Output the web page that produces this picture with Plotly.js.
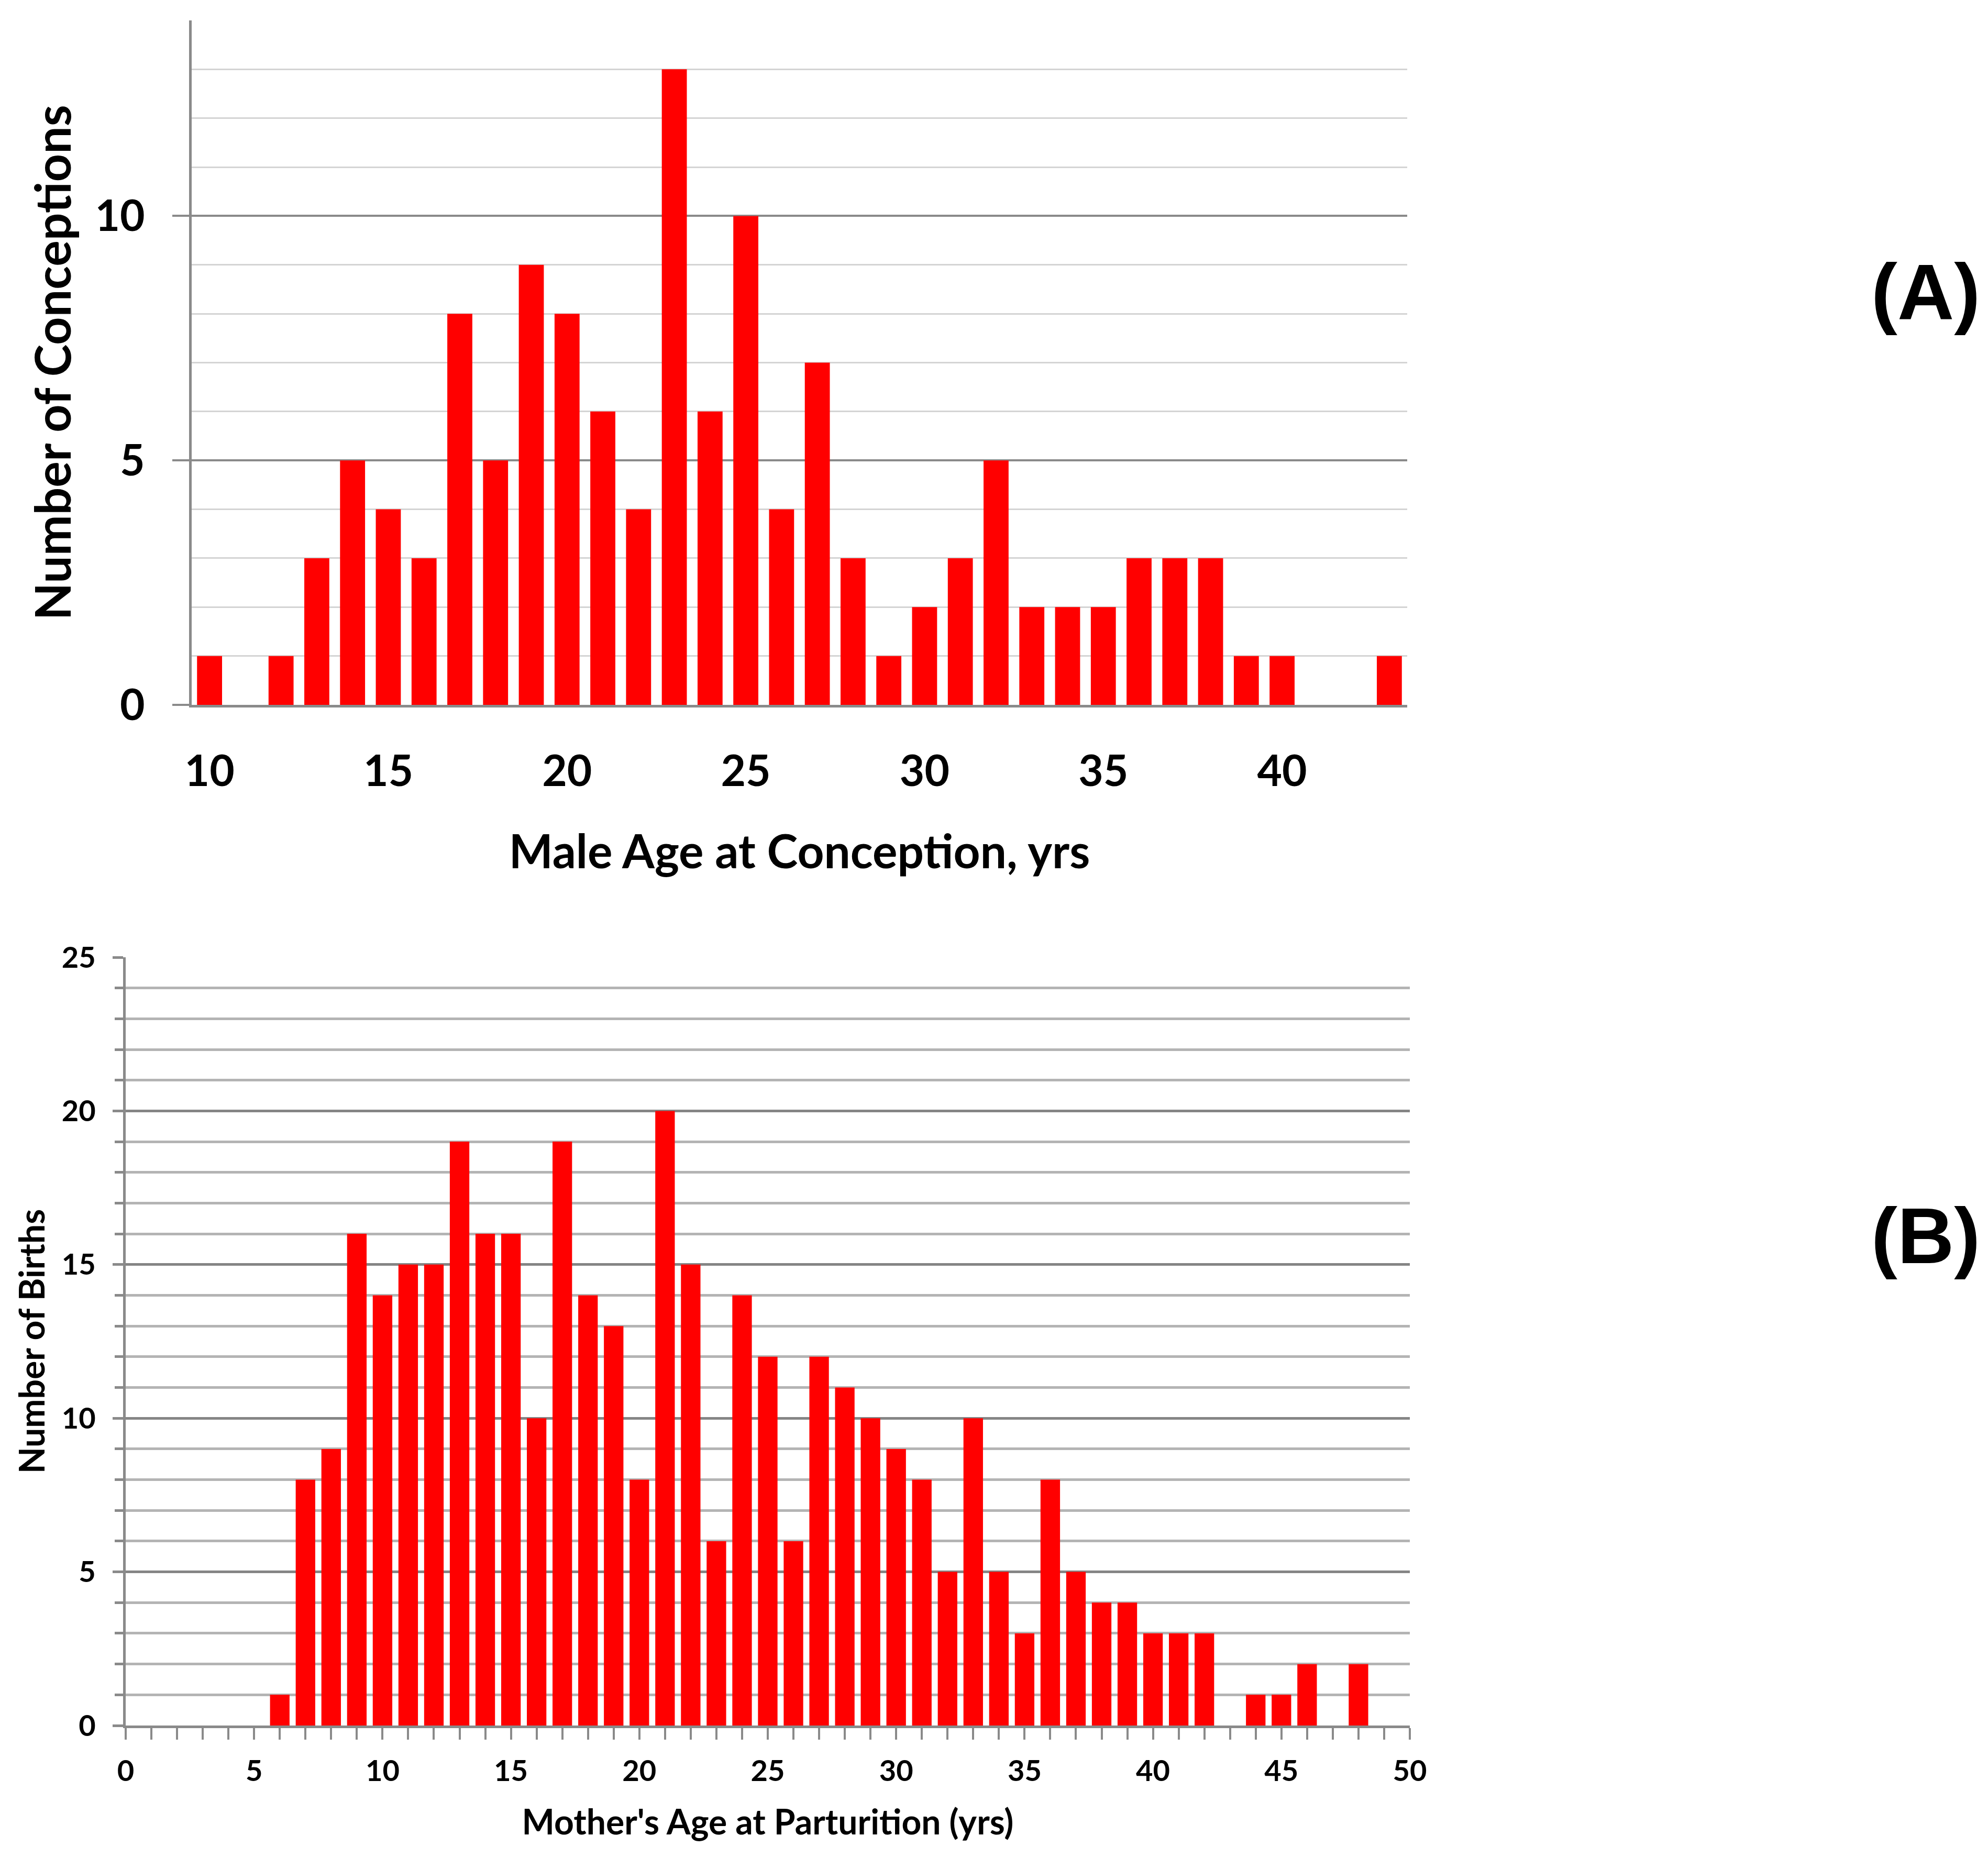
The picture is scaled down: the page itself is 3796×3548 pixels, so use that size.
<!DOCTYPE html>
<html>
<head>
<meta charset="utf-8">
<script src="https://cdn.plot.ly/plotly-3.0.1.min.js"></script>
<style>
  html, body { margin: 0; padding: 0; background: #fff; }
  #plotdiv { width: 3796px; height: 3548px; }
</style>
</head>
<body>
<div id="plotdiv"></div>
<script>
// (A) male age at conception
var maleAge = [10, 11, 12, 13, 14, 15, 16, 17, 18, 19, 20, 21, 22, 23, 24, 25, 26,
               27, 28, 29, 30, 31, 32, 33, 34, 35, 36, 37, 38, 39, 40, 41, 42, 43];
var conceptions = [1, 0, 1, 3, 5, 4, 3, 8, 5, 9, 8, 6, 4, 13, 6, 10, 4,
                   7, 3, 1, 2, 3, 5, 2, 2, 2, 3, 3, 3, 1, 1, 0, 0, 1];

// (B) mother's age at parturition
var motherAge = [6, 7, 8, 9, 10, 11, 12, 13, 14, 15, 16, 17, 18, 19, 20, 21, 22,
                 23, 24, 25, 26, 27, 28, 29, 30, 31, 32, 33, 34, 35, 36, 37, 38,
                 39, 40, 41, 42, 43, 44, 45, 46, 47, 48];
var births = [1, 8, 9, 16, 14, 15, 15, 19, 16, 16, 10, 19, 14, 13, 8, 20, 15,
              6, 14, 12, 6, 12, 11, 10, 9, 8, 5, 10, 5, 3, 8, 5, 4,
              4, 3, 3, 3, 0, 1, 1, 2, 0, 2];

var panelLabels = ['(A)', '(B)'];

var W = 3796, H = 3548;
var txt = 'Lato, DejaVu Sans Condensed, sans-serif';

function px(v) { return v / W; }
function py(v) { return 1 - v / H; }

var data = [
    {
        x: maleAge,
        y: conceptions,
        type: 'bar',
        width: 0.7,
        marker: { color: '#ff0000' },
        xaxis: 'x',
        yaxis: 'y',
        hoverinfo: 'x+y'
    },
    {
        x: motherAge,
        y: births,
        type: 'bar',
        width: 0.76,
        marker: { color: '#ff0000' },
        xaxis: 'x2',
        yaxis: 'y2',
        hoverinfo: 'x+y'
    }
];

var layout = {
    width: W,
    height: H,
    margin: { l: 0, r: 0, t: 0, b: 0 },
    paper_bgcolor: '#ffffff',
    plot_bgcolor: '#ffffff',
    showlegend: false,
    font: { family: txt, color: '#000000' },

    xaxis: {
        domain: [px(366), px(2687)],
        anchor: 'y',
        range: [9.5, 43.5],
        tick0: 10,
        dtick: 5,
        showgrid: false,
        zeroline: false,
        showline: true,
        linecolor: '#8a8a8a',
        linewidth: 5,
        ticks: '',
        ticklabelstandoff: 52,
        tickfont: { family: txt, size: 82, color: '#000', weight: 'bold' },
        title: {
            text: 'Male Age at Conception, yrs',
            font: { family: txt, size: 89, color: '#000', weight: 'bold' },
            standoff: 80
        }
    },
    yaxis: {
        domain: [py(1346), py(39)],
        anchor: 'x',
        range: [0, 14],
        tick0: 0,
        dtick: 5,
        showgrid: true,
        gridcolor: '#8a8a8a',
        gridwidth: 4,
        zeroline: false,
        showline: true,
        linecolor: '#8a8a8a',
        linewidth: 5,
        ticks: 'outside',
        ticklen: 32,
        tickwidth: 4,
        tickcolor: '#8a8a8a',
        ticklabelstandoff: 36,
        tickfont: { family: txt, size: 82, color: '#000', weight: 'bold' },
        minor: { dtick: 1, showgrid: true, gridcolor: '#d4d4d4', gridwidth: 3, ticks: '' },
        title: {
            text: 'Number of Conceptions',
            font: { family: txt, size: 93, color: '#000', weight: 'bold' },
            standoff: 16
        }
    },

    xaxis2: {
        domain: [px(240), px(2692)],
        anchor: 'y2',
        range: [0, 50],
        tick0: 0,
        dtick: 5,
        showgrid: false,
        zeroline: false,
        showline: true,
        linecolor: '#8a8a8a',
        linewidth: 5,
        ticks: 'outside',
        ticklen: 22,
        tickwidth: 4,
        tickcolor: '#8a8a8a',
        ticklabelstandoff: 12,
        tickfont: { family: txt, size: 56, color: '#000', weight: 'bold' },
        minor: { dtick: 1, ticks: 'outside', ticklen: 22, tickwidth: 4, tickcolor: '#8a8a8a', showgrid: false },
        title: {
            text: "Mother's Age at Parturition (yrs)",
            font: { family: txt, size: 66, color: '#000', weight: 'bold' },
            standoff: 46
        }
    },
    yaxis2: {
        domain: [py(3295), py(1828)],
        anchor: 'x2',
        range: [0, 25],
        tick0: 0,
        dtick: 5,
        showgrid: true,
        gridcolor: '#858585',
        gridwidth: 5,
        zeroline: false,
        showline: true,
        linecolor: '#8a8a8a',
        linewidth: 5,
        ticks: 'outside',
        ticklen: 20,
        tickwidth: 5,
        tickcolor: '#8a8a8a',
        ticklabelstandoff: 21,
        tickfont: { family: txt, size: 56, color: '#000', weight: 'bold' },
        minor: { dtick: 1, showgrid: true, gridcolor: '#b4b4b4', gridwidth: 5,
                 ticks: 'outside', ticklen: 16, tickwidth: 5, tickcolor: '#8a8a8a' },
        title: {
            text: 'Number of Births',
            font: { family: txt, size: 66, color: '#000', weight: 'bold' },
            standoff: 12
        }
    },

    annotations: [
        {
            text: panelLabels[0], xref: 'paper', yref: 'paper',
            x: px(3677), y: py(557), xanchor: 'center', yanchor: 'middle',
            showarrow: false,
            font: { family: 'Liberation Sans, Arial, sans-serif', size: 150, color: '#000', weight: 'bold' }
        },
        {
            text: panelLabels[1], xref: 'paper', yref: 'paper',
            x: px(3677), y: py(2360), xanchor: 'center', yanchor: 'middle',
            showarrow: false,
            font: { family: 'Liberation Sans, Arial, sans-serif', size: 150, color: '#000', weight: 'bold' }
        }
    ]
};

Plotly.newPlot('plotdiv', data, layout, { staticPlot: true });
</script>
</body>
</html>
